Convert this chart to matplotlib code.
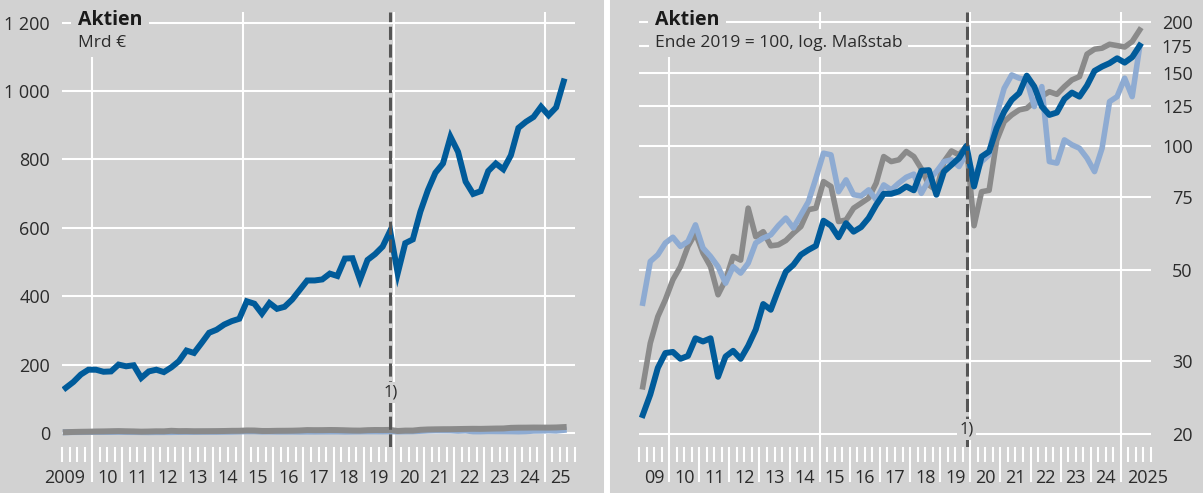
import numpy as np
import matplotlib
matplotlib.use("Agg")
import matplotlib.pyplot as plt
from matplotlib.lines import Line2D
from matplotlib.ticker import FixedLocator, NullLocator

plt.rcParams['font.family'] = ['Open Sans', 'DejaVu Sans']

# quarterly values, 2009 Q1 ... 2025 Q3
n_quarters = 67
quarters = 2009 + (np.arange(n_quarters) + 0.5) / 4

# left panel, Mrd €
stocks_blue = [132, 149, 171, 185, 185, 179, 180, 200, 195, 198,
               161, 180, 185, 178, 192, 210, 241, 234, 263, 293,
               302, 317, 327, 334, 385, 378, 349, 380, 363, 369,
               390, 418, 446, 446, 449, 466, 459, 510, 511, 448,
               506, 523, 545, 591, 467, 555, 566, 647, 710, 761,
               788, 866, 822, 735, 699, 707, 766, 788, 771, 812,
               892, 910, 924, 954, 929, 952, 1028]
stocks_lightblue = [2.1, 2.6, 2.7, 2.9, 3.0, 2.9, 2.9, 3.2, 2.8, 2.7,
                    2.5, 2.3, 2.5, 2.5, 2.6, 2.9, 3.0, 3.0, 3.2, 3.3,
                    3.2, 3.4, 3.7, 4.2, 4.8, 4.8, 3.9, 4.1, 3.8, 3.8,
                    3.9, 3.7, 4.0, 3.9, 4.1, 4.2, 4.3, 3.8, 4.1, 4.3,
                    4.6, 4.6, 4.5, 4.8, 4.2, 4.6, 4.8, 5.9, 6.9, 7.4,
                    7.3, 7.2, 6.2, 7.0, 4.6, 4.5, 5.2, 5.0, 4.9, 4.7,
                    4.3, 4.9, 6.4, 6.6, 7.3, 6.6, 8.7]
stocks_gray = [2.3, 3.0, 3.5, 3.8, 4.3, 4.6, 5.1, 5.5, 5.0, 4.6,
               3.9, 4.3, 4.9, 4.8, 6.4, 5.4, 5.6, 5.1, 5.2, 5.3,
               5.5, 5.8, 6.3, 6.4, 7.4, 7.2, 5.9, 5.9, 6.4, 6.5,
               6.7, 7.3, 8.5, 8.2, 8.3, 8.7, 8.5, 7.9, 7.2, 7.0,
               8.2, 8.7, 8.6, 9.0, 5.8, 7.0, 7.0, 9.3, 10.3, 10.7,
               11.0, 11.1, 11.5, 11.9, 12.2, 12.0, 12.5, 13.0, 13.2, 15.0,
               15.5, 15.6, 15.9, 15.8, 15.7, 16.1, 17.2]

# right panel, end 2019 = 100
index_blue = [22.2, 24.9, 28.9, 31.4, 31.6, 30.4, 30.9, 34.1, 33.5, 34.1,
              27.5, 30.8, 31.8, 30.4, 32.7, 35.8, 41.3, 40.0, 44.7, 49.5,
              51.4, 54.4, 55.9, 57.2, 65.8, 64.0, 60.0, 64.9, 61.9, 63.5,
              66.8, 71.9, 76.5, 76.5, 77.5, 79.7, 78.0, 87.0, 87.3, 76.1,
              86.6, 89.9, 93.4, 100, 79.7, 94.2, 96.9, 110.4, 121.1, 129.3,
              134.3, 148.1, 139.3, 124.6, 118.9, 120.5, 130.0, 134.7, 131.7, 140.1,
              152.1, 155.8, 158.8, 163.2, 159.3, 164.2, 175.2]
index_gray = [26.0, 33.2, 38.5, 42.3, 47.3, 50.9, 57.0, 61.4, 54.9, 50.9,
              43.5, 47.3, 53.9, 52.8, 70.6, 60.2, 61.9, 57.2, 57.5, 58.9,
              61.4, 63.7, 70.0, 70.6, 81.9, 79.7, 65.5, 66.1, 70.6, 72.6,
              74.7, 81.2, 94.2, 91.6, 92.5, 96.9, 94.2, 88.0, 80.4, 78.0,
              91.6, 97.2, 95.1, 100, 64.0, 77.4, 78.0, 103, 114.5, 118.9,
              122.3, 123.4, 128, 132, 135.4, 133.4, 139.3, 144.6, 147.3, 167,
              171.7, 172.7, 176.5, 175.2, 173.8, 179.2, 191.2]
index_lightblue = [41.5, 52.4, 54.4, 58.1, 60.0, 57.0, 58.6, 64.3, 56.5, 53.9,
                   50.9, 46.4, 50.9, 49.1, 51.9, 58.1, 59.7, 60.8, 64.0, 66.8,
                   63.2, 68.0, 73.2, 83.5, 96.0, 95.1, 77.4, 82.7, 76.1, 75.6,
                   78.2, 74.0, 80.4, 78.2, 81.2, 83.9, 85.4, 76.7, 82.7, 86.6,
                   91.6, 92.5, 89.1, 96, 84, 91.6, 95.1, 118.9, 138, 148.7,
                   146, 144.6, 124.6, 139.3, 91.6, 90.8, 103.4, 100.6, 98.7, 93.4,
                   86.6, 98.7, 128.1, 131.7, 146, 131.7, 174.2]

left_yticks = [0, 200, 400, 600, 800, 1000, 1200]
left_ylabels = ['0', '200', '400', '600', '800', '1 000', '1 200']
right_yticks = [20, 30, 50, 75, 100, 125, 150, 175, 200]
left_xlabels = ['2009', '10', '11', '12', '13', '14', '15', '16', '17',
                '18', '19', '20', '21', '22', '23', '24', '25']
right_xlabels = ['09', '10', '11', '12', '13', '14', '15', '16', '17',
                 '18', '19', '20', '21', '22', '23', '24', '2025']
break_date = 2019.875

bg = '#d2d2d2'
blue = '#005b9a'
lblue = '#8eabd2'
gray = '#8a8a8a'
txt = '#2b2b2b'

W, H = 1203, 493
fig = plt.figure(figsize=(W / 100, H / 100), dpi=100, facecolor=bg)
ax1 = fig.add_axes([62 / W, (H - 447) / H, 513 / W, 435 / H])
ax2 = fig.add_axes([639 / W, (H - 447) / H, 512 / W, 435 / H])


def style(ax, xlabels):
    ax.set_facecolor(bg)
    for s in ax.spines.values():
        s.set_visible(False)
    ax.set_xlim(2009, 2026)
    ax.xaxis.set_major_locator(FixedLocator(np.arange(2010, 2026)))
    ax.xaxis.set_minor_locator(FixedLocator(np.arange(2009, 2026.01, 0.25)))
    ax.tick_params(axis='x', which='major', length=25, width=1.5,
                   color='white', labelbottom=False)
    ax.tick_params(axis='x', which='minor', length=10.5, width=1.5,
                   color='white')
    for yr in [2010, 2015, 2020, 2025]:
        ax.axvline(yr, color='white', lw=1.5, zorder=1)
    ax.yaxis.grid(True, color='white', lw=1.5)
    ax.set_axisbelow(True)
    years = np.arange(2009, 2026)
    for yr, lab in zip(years, xlabels):
        if len(lab) == 4 and yr == 2009:
            x, ha = yr + 0.78, 'right'
        elif len(lab) == 4:
            x, ha = yr + 0.2, 'left'
        else:
            x, ha = yr + 0.5, 'center'
        ax.text(x, -0.071, lab, transform=ax.get_xaxis_transform(),
                ha=ha, va='center', fontsize=13, color=txt)
    ax.axvline(break_date, color='#555555', lw=2.2,
               linestyle=(0, (4.3, 1.5)), zorder=4)


box = dict(boxstyle='square,pad=0.35', fc=bg, ec='none')

# left panel
style(ax1, left_xlabels)
ax1.plot(quarters, stocks_blue, color=blue, lw=4.3, zorder=3,
         solid_joinstyle='miter')
ax1.plot(quarters, stocks_lightblue, color=lblue, lw=4.3, zorder=3)
ax1.plot(quarters, stocks_gray, color=gray, lw=4.3, zorder=3)
ax1.set_ylim(-41, 1231)
ax1.set_yticks(left_yticks, left_ylabels)
ax1.tick_params(axis='y', length=0, pad=8.6, labelsize=13, labelcolor=txt)
ax1.text(0.031, 0.982, 'Aktien', transform=ax1.transAxes, fontsize=14,
         fontweight='bold', color='#1a1a1a', va='center', ha='left',
         bbox=box, zorder=5)
ax1.text(0.031, 0.929, 'Mrd €', transform=ax1.transAxes, fontsize=12.5,
         color=txt, va='center', ha='left', bbox=box, zorder=5)
ax1.text(break_date, 117, '1)', fontsize=12, color=txt, ha='center',
         va='center', bbox=dict(boxstyle='square,pad=0.15', fc=bg, ec='none'),
         zorder=5)

# right panel
style(ax2, right_xlabels)
ax2.plot(quarters, index_gray, color=gray, lw=4.0, zorder=3)
ax2.plot(quarters, index_lightblue, color=lblue, lw=4.0, zorder=3)
ax2.plot(quarters, index_blue, color=blue, lw=4.3, zorder=3)
ax2.set_yscale('log')
ax2.set_ylim(18.57, 211.4)
ax2.yaxis.set_major_locator(FixedLocator(right_yticks))
ax2.yaxis.set_minor_locator(NullLocator())
ax2.set_yticks(right_yticks, [str(v) for v in right_yticks])
ax2.yaxis.tick_right()
ax2.tick_params(axis='y', length=0, pad=30, labelsize=13, labelcolor=txt)
for t in ax2.yaxis.get_major_ticks():
    t.label2.set_horizontalalignment('right')
ax2.text(0.031, 0.982, 'Aktien', transform=ax2.transAxes, fontsize=14,
         fontweight='bold', color='#1a1a1a', va='center', ha='left',
         bbox=box, zorder=5)
ax2.text(0.031, 0.929, 'Ende 2019 = 100, log. Maßstab', transform=ax2.transAxes,
         fontsize=12.5, color=txt, va='center', ha='left', bbox=box, zorder=5)
ax2.text(break_date, 20.45, '1)', fontsize=12, color=txt, ha='center',
         va='center', bbox=dict(boxstyle='square,pad=0.15', fc=bg, ec='none'),
         zorder=5)

fig.add_artist(Line2D([607 / W, 607 / W], [0, 1], color='white', lw=4.3))

fig.savefig('out.png', dpi=100, facecolor=bg)
